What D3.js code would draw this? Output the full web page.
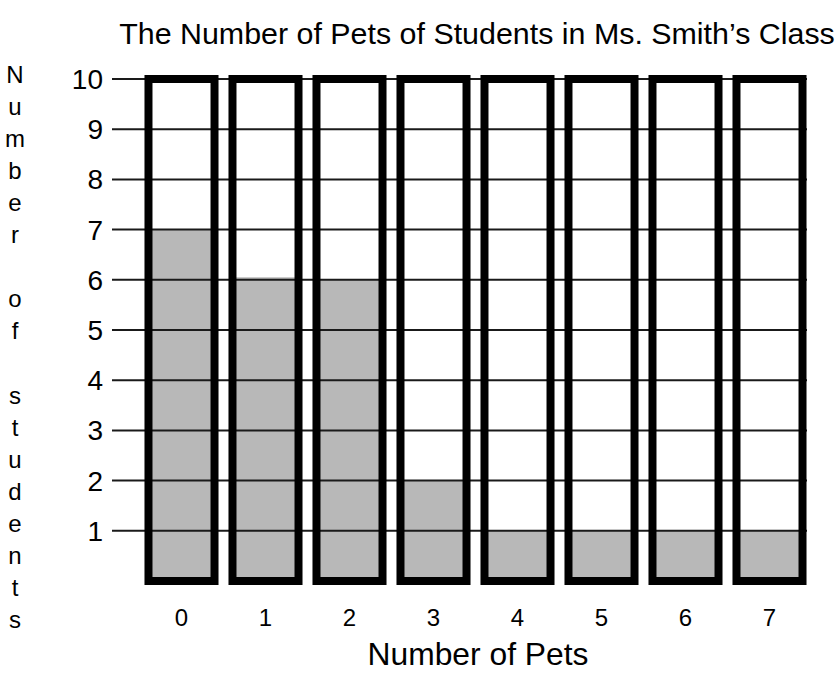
<!DOCTYPE html>
<html>
<head>
<meta charset="utf-8">
<script src="https://cdn.jsdelivr.net/npm/d3@7"></script>
<style>
  body { margin: 0; background: #fff; }
  svg text { font-family: "Liberation Sans", Arial, Helvetica, sans-serif; fill: #000; }
</style>
</head>
<body>
<div id="chart"></div>
<script>
// values
const petCounts = ["0", "1", "2", "3", "4", "5", "6", "7"];
const studentCounts = [7, 6.05, 6, 2, 1, 1, 1, 1];
const yTicks = [1, 2, 3, 4, 5, 6, 7, 8, 9, 10];
const yMax = 10;
const chartTitle = "The Number of Pets of Students in Ms. Smith\u2019s Class";
const xTitle = "Number of Pets";
const yTitle = "Number of students";

const width = 838, height = 680;

const svg = d3.select("#chart").append("svg")
    .attr("width", width)
    .attr("height", height);

const x = d3.scaleBand()
    .domain(petCounts)
    .range([139.5, 811.5])
    .paddingInner(0.214)
    .paddingOuter(0.107);

const y = d3.scaleLinear()
    .domain([0, yMax])
    .range([581, 79]);

const data = petCounts.map((p, i) => ({ pets: p, count: studentCounts[i] }));

// gray fills first, grid over them, thick outlines last
svg.append("g").selectAll("rect")
    .data(data)
    .join("rect")
    .attr("x", d => x(d.pets))
    .attr("y", d => y(d.count))
    .attr("width", x.bandwidth())
    .attr("height", d => y(0) - y(d.count))
    .attr("fill", "#b8b8b8");

svg.append("g").selectAll("line")
    .data(yTicks)
    .join("line")
    .attr("x1", 112)
    .attr("x2", 807)
    .attr("y1", d => y(d))
    .attr("y2", d => y(d))
    .attr("stroke", "#1a1a1a")
    .attr("stroke-width", 2);

svg.append("g").selectAll("rect")
    .data(data)
    .join("rect")
    .attr("x", d => x(d.pets))
    .attr("y", y(yMax))
    .attr("width", x.bandwidth())
    .attr("height", y(0) - y(yMax))
    .attr("fill", "none")
    .attr("stroke", "#000")
    .attr("stroke-width", 8);

// y tick labels
svg.append("g").selectAll("text")
    .data(yTicks)
    .join("text")
    .attr("x", 103)
    .attr("y", d => y(d))
    .attr("dy", "0.36em")
    .attr("text-anchor", "end")
    .attr("font-size", 28)
    .text(d => d);

// x tick labels
svg.append("g").selectAll("text")
    .data(petCounts)
    .join("text")
    .attr("x", d => x(d) + x.bandwidth() / 2)
    .attr("y", 626)
    .attr("text-anchor", "middle")
    .attr("font-size", 24)
    .text(d => d);

svg.append("text")
    .attr("x", 477)
    .attr("y", 44)
    .attr("text-anchor", "middle")
    .attr("font-size", 30.4)
    .text(chartTitle);

svg.append("text")
    .attr("x", 478)
    .attr("y", 665)
    .attr("text-anchor", "middle")
    .attr("font-size", 31.8)
    .text(xTitle);

// vertical stacked letters for the y title
svg.append("g").selectAll("text")
    .data(yTitle.split(""))
    .join("text")
    .attr("x", 15)
    .attr("y", (d, i) => 74 + i * 32.1)
    .attr("dy", "0.36em")
    .attr("text-anchor", "middle")
    .attr("font-size", 24)
    .text(d => d);
</script>
</body>
</html>
